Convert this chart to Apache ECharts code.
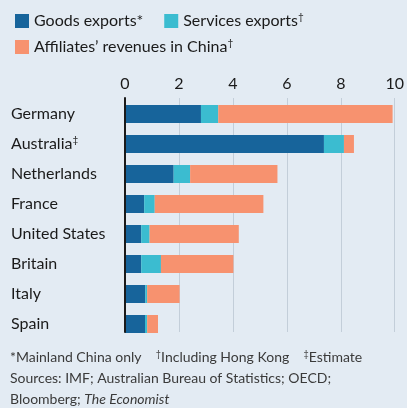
<!DOCTYPE html>
<html><head><meta charset="utf-8">
<script src="https://cdn.jsdelivr.net/npm/echarts@6/dist/echarts.min.js"></script>
<style>html,body{margin:0;padding:0;background:#e3ebf3;}#c{width:407px;height:408px;}</style>
</head><body><div id="c"></div>
<script>
const categories = ['Germany', 'Australia', 'Netherlands', 'France', 'United States', 'Britain', 'Italy', 'Spain'];
const goods = [2.81, 7.36, 1.80, 0.71, 0.60, 0.60, 0.75, 0.74];
const services = [0.64, 0.74, 0.61, 0.39, 0.31, 0.73, 0.07, 0.08];
const affiliates = [6.45, 0.37, 3.23, 4.02, 3.30, 2.68, 1.20, 0.40];
const xTicks = [0, 2, 4, 6, 8, 10];
const seriesNames = ['Goods exports*', 'Services exports', 'Affiliates’ revenues in China'];
const legendSup = {'Goods exports*': '', 'Services exports': '†', 'Affiliates’ revenues in China': '†'};
const catSup = {'Australia': '‡'};

const FONT = 'Lato';
const colors = ['#17649b', '#3bbcd0', '#f7926f'];
const chart = echarts.init(document.getElementById('c'));
const supRich = {
  t: {fontFamily: FONT, fontSize: 16, color: '#1a1a1a'},
  s: {fontFamily: FONT, fontSize: 10, color: '#1a1a1a', padding: [0, 0, 8, 0]}
};
const legendBase = {
  icon: 'rect', itemWidth: 14, itemHeight: 14, itemGap: 21, itemTextGap: 5,
  orient: 'horizontal', left: 10, selectedMode: false,
  formatter: n => '{t|' + n + '}' + (legendSup[n] ? '{s|' + legendSup[n] + '}' : ''),
  textStyle: {fontFamily: FONT, fontSize: 16, color: '#1a1a1a', rich: supRich}
};
chart.setOption({
  backgroundColor: '#e3ebf3',
  animation: false,
  color: colors,
  legend: [
    Object.assign({}, legendBase, {top: 7, data: [seriesNames[0], seriesNames[1]]}),
    Object.assign({}, legendBase, {top: 33, data: [seriesNames[2]]})
  ],
  grid: [
    {left: 125, right: 11.7, top: 99, height: 240},
    {left: 125, right: 11.7, top: 98, height: 234}
  ],
  xAxis: [
    {gridIndex: 0, type: 'value', min: 0, max: 10, interval: 2, show: false},
    {gridIndex: 1, type: 'value', min: xTicks[0], max: xTicks[xTicks.length - 1], interval: 2,
     position: 'top', z: 0,
     axisLine: {show: false}, axisTick: {show: false},
     axisLabel: {fontFamily: FONT, fontSize: 16, color: '#1a1a1a', margin: 6},
     splitLine: {show: true, lineStyle: {color: '#c3ced9', width: 1}}}
  ],
  yAxis: [
    {gridIndex: 0, type: 'category', data: categories, inverse: true,
     axisLine: {show: false}, axisTick: {show: false}, splitLine: {show: false},
     axisLabel: {align: 'left', margin: 114,
       formatter: v => '{t|' + v + '}' + (catSup[v] ? '{s|' + catSup[v] + '}' : ''),
       rich: supRich}},
    {gridIndex: 1, type: 'value', min: 0, max: 1, z: 10,
     axisLine: {show: true, lineStyle: {color: '#1a1a1a', width: 2}},
     axisTick: {show: false}, axisLabel: {show: false}, splitLine: {show: false}}
  ],
  series: [
    {name: seriesNames[0], type: 'bar', stack: 'a', data: goods, barWidth: 18, xAxisIndex: 0, yAxisIndex: 0},
    {name: seriesNames[1], type: 'bar', stack: 'a', data: services, barWidth: 18, xAxisIndex: 0, yAxisIndex: 0},
    {name: seriesNames[2], type: 'bar', stack: 'a', data: affiliates, barWidth: 18, xAxisIndex: 0, yAxisIndex: 0}
  ],
  graphic: [
    {type: 'text', left: 10, top: 350, style: {
      text: '*Mainland China only    {s|†}Including Hong Kong    {s|‡}Estimate',
      fontFamily: FONT, fontSize: 14, fill: '#3a3a3a',
      rich: {s: {fontFamily: FONT, fontSize: 9, fill: '#3a3a3a', padding: [0, 0, 6, 0]}}}},
    {type: 'text', left: 10, top: 371, style: {
      text: 'Sources: IMF; Australian Bureau of Statistics; OECD;',
      fontFamily: FONT, fontSize: 14, fill: '#3a3a3a'}},
    {type: 'text', left: 10, top: 392, style: {
      text: 'Bloomberg; {i|The Economist}',
      fontFamily: FONT, fontSize: 14, fill: '#3a3a3a',
      rich: {i: {fontFamily: FONT, fontSize: 14, fontStyle: 'italic', fill: '#3a3a3a'}}}}
  ]
});
</script></body></html>
